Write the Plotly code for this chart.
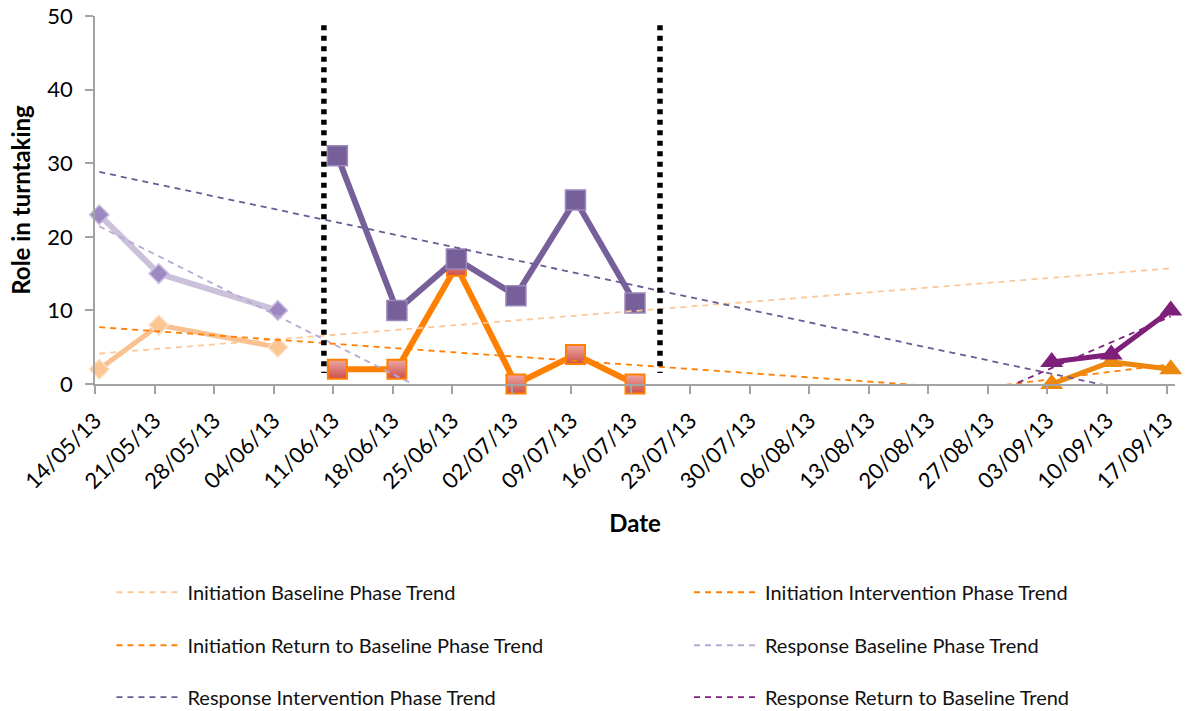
import numpy as np
import pandas as pd
import plotly.graph_objects as go

# ---- data -------------------------------------------------------------
TICK_LABELS = ["14/05/13", "21/05/13", "28/05/13", "04/06/13", "11/06/13",
               "18/06/13", "25/06/13", "02/07/13", "09/07/13", "16/07/13",
               "23/07/13", "30/07/13", "06/08/13", "13/08/13", "20/08/13",
               "27/08/13", "03/09/13", "10/09/13", "17/09/13"]

BASELINE_DATES = ["14/05/13", "21/05/13", "04/06/13"]
INITIATION_BASELINE = [2, 8, 5]
RESPONSE_BASELINE = [23, 15, 10]

INTERVENTION_DATES = ["11/06/13", "18/06/13", "25/06/13",
                      "02/07/13", "09/07/13", "16/07/13"]
INITIATION_INTERVENTION = [2, 2, 16, 0, 4, 0]
RESPONSE_INTERVENTION = [31, 10, 17, 12, 25, 11]

RETURN_DATES = ["03/09/13", "10/09/13", "17/09/13"]
INITIATION_RETURN = [0, 3, 2]
RESPONSE_RETURN = [3, 4, 10]

# phase-change markers (between baseline / intervention / return)
PHASE_CHANGES = ["2013-06-09 22:00", "2013-07-19 10:30"]

TREND_NAMES = ["Initiation Baseline Phase Trend",
               "Initiation Intervention Phase Trend",
               "Initiation Return to Baseline Phase Trend",
               "Response Baseline Phase Trend",
               "Response Intervention Phase Trend",
               "Response Return to Baseline Trend"]

FONT = "Lato, 'Open Sans', sans-serif"
DATE_FMT = "%d/%m/%y"


def to_dates(labels):
    return pd.to_datetime(labels, format=DATE_FMT)


# each day occupies one slot on the date axis; values sit mid-slot
def slot_centre(labels):
    return to_dates(labels) + pd.Timedelta(hours=12)


tick_dates = to_dates(TICK_LABELS)
axis_start = tick_dates[0]
axis_end = tick_dates[-1] + pd.Timedelta(days=1)
trend_start = axis_start + pd.Timedelta(hours=12)
trend_end = tick_dates[-1] + pd.Timedelta(hours=12)


def trend_line(labels, values):
    d = slot_centre(labels)
    days = (d - axis_start) / pd.Timedelta(days=1)
    slope, icpt = np.polyfit(np.asarray(days, float), np.asarray(values, float), 1)
    span = pd.DatetimeIndex([trend_start, trend_end])
    sd = np.asarray((span - axis_start) / pd.Timedelta(days=1), float)
    return span, icpt + slope * sd


fig = go.Figure()

# ---- observed series --------------------------------------------------
series = [
    dict(d=BASELINE_DATES, v=INITIATION_BASELINE, line="#FAC090", lw=5,
         sym="diamond", size=15, fill="#FBC594", edge="#FDDDBF", ew=1.5),
    dict(d=BASELINE_DATES, v=RESPONSE_BASELINE, line="#CCC1DA", lw=6,
         sym="diamond", size=15, fill="#9D88C2", edge="#CABEDF", ew=1.5),
    dict(d=INTERVENTION_DATES, v=INITIATION_INTERVENTION, line="#FF7F00", lw=6,
         sym="square", size=19, fill="#EFA7A3", edge="#FF8000", ew=2,
         grad="#C9504C"),
    dict(d=INTERVENTION_DATES, v=RESPONSE_INTERVENTION, line="#77609A", lw=6,
         sym="square", size=20, fill="#77609A", edge="#9C88BA", ew=1.5),
    dict(d=RETURN_DATES, v=INITIATION_RETURN, line="#EB890E", lw=5,
         sym="triangle-up", size=20, fill="#EB890E", edge="#EB890E", ew=0),
    dict(d=RETURN_DATES, v=RESPONSE_RETURN, line="#7E1F7A", lw=5,
         sym="triangle-up", size=20, fill="#7E1F7A", edge="#7E1F7A", ew=0),
]

for s in series:
    marker = dict(symbol=s["sym"], size=s["size"], color=s["fill"],
                  line=dict(color=s["edge"], width=s["ew"]))
    if "grad" in s:
        marker["gradient"] = dict(type="vertical", color=s["grad"])
    fig.add_trace(go.Scatter(
        x=slot_centre(s["d"]), y=s["v"], mode="lines+markers",
        line=dict(color=s["line"], width=s["lw"]),
        marker=marker, cliponaxis=False, showlegend=False, hoverinfo="x+y"))

# ---- linear trend lines ----------------------------------------------
trends = [
    (BASELINE_DATES, INITIATION_BASELINE, "#FCC89A", "legend"),
    (INTERVENTION_DATES, INITIATION_INTERVENTION, "#FF7F00", "legend2"),
    (RETURN_DATES, INITIATION_RETURN, "#FF800A", "legend3"),
    (BASELINE_DATES, RESPONSE_BASELINE, "#B8A9D2", "legend4"),
    (INTERVENTION_DATES, RESPONSE_INTERVENTION, "#6C5A92", "legend5"),
    (RETURN_DATES, RESPONSE_RETURN, "#80207E", "legend6"),
]
for name, (d, v, col, leg) in zip(TREND_NAMES, trends):
    tx, ty = trend_line(d, v)
    fig.add_trace(go.Scatter(
        x=tx, y=ty, mode="lines", name=name, legend=leg,
        line=dict(color=col, width=1.8, dash="6px,5px"),
        hoverinfo="skip"))

# ---- phase-change dividers --------------------------------------------
for pc in PHASE_CHANGES:
    fig.add_shape(type="line", xref="x", yref="paper",
                  x0=pc, x1=pc, y0=0.975, y1=0.03,
                  line=dict(color="black", width=5.5, dash="5px,5.5px"))

# ---- legends: two columns, three rows (container coordinates) ---------
col_x = [0.0935, 0.578]
row_y = [0.167, 0.0925, 0.0195]
legend_slots = [(0, 0), (0, 1), (1, 0), (1, 1), (2, 0), (2, 1)]
legend_layout = {}
for i, (r, c) in enumerate(legend_slots):
    key = "legend" if i == 0 else f"legend{i + 1}"
    legend_layout[key] = dict(
        xref="container", yref="container",
        x=col_x[c], xanchor="left", y=row_y[r], yanchor="middle",
        orientation="h", itemwidth=66, bgcolor="rgba(0,0,0,0)",
        font=dict(family=FONT, size=20, color="#111111"))

axis_col = "#A3A3A3"
fig.update_layout(
    width=1192, height=711,
    margin=dict(l=95, r=17, t=16, b=327, autoexpand=False),
    paper_bgcolor="white", plot_bgcolor="white",
    font=dict(family=FONT, color="black"),
    xaxis=dict(
        type="date", range=[axis_start, axis_end], automargin=False,
        tickvals=tick_dates, ticktext=TICK_LABELS, tickangle=-45,
        tickfont=dict(size=22, family=FONT, color="black"),
        showgrid=False, zeroline=False,
        showline=True, linecolor=axis_col, linewidth=2,
        ticks="outside", ticklen=8, tickwidth=1.5, tickcolor=axis_col,
        ticklabelstandoff=5,
        title=dict(text="<b>Date</b>", font=dict(size=24, family=FONT),
                   standoff=22)),
    yaxis=dict(
        range=[0, 50], tickvals=[0, 10, 20, 30, 40, 50], automargin=False,
        tickfont=dict(size=22, family=FONT, color="black"),
        showgrid=False, zeroline=False,
        showline=True, linecolor=axis_col, linewidth=1.5,
        ticks="outside", ticklen=8, tickwidth=1.5, tickcolor=axis_col,
        ticklabelstandoff=8,
        title=dict(text="<b>Role in turntaking</b>",
                   font=dict(size=24, family=FONT), standoff=10)),
    **legend_layout,
)

fig.write_html("out.html")
